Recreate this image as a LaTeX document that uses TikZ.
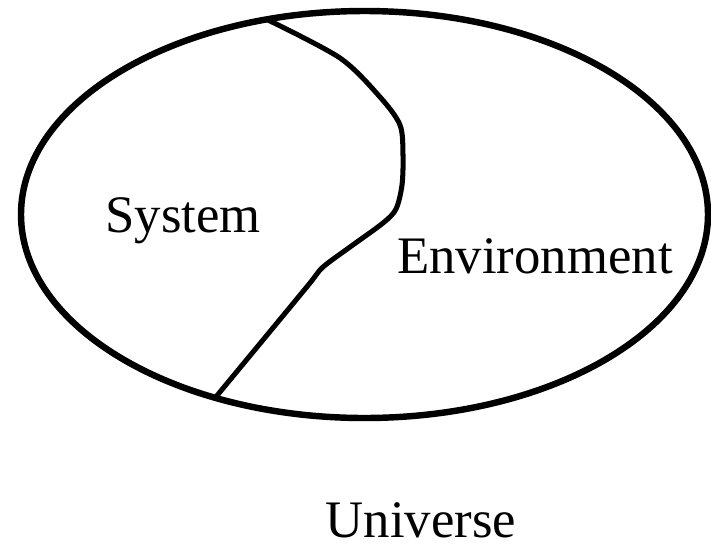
\documentclass[tikz,border=0pt]{standalone}
\usepackage{fontspec}
\setmainfont{Liberation Serif}

\begin{document}
\begin{tikzpicture}[
  x=0.03cm, y=-0.03cm,
  rim/.style={line width=5.5pt},
  cut/.style={line width=4.3pt, line join=round},
  word/.style={anchor=base, inner sep=0pt, font=\fontsize{45}{50}\selectfont}
]
  \useasboundingbox (0,0) rectangle (711,548);
  % universe boundary
  \coordinate (centre) at (364.5,214.5);
  \draw[rim] (centre) ellipse [x radius=343.5, y radius=203.5];
  % system / environment split
  \draw[cut] plot[smooth, tension=0.5] coordinates {
    (268,20) (340,58) (380,97) (400,125) (403,155) (402,185)
    (396,209) (383,223) (350,247) (323,267) (310,283) (277,323) (215,398)};
  \node[word] (system) at (183,232) {System};
  \node[word] (environment) at (535,273) {Environment};
  \node[word] (universe) at (421,537) {Universe};
\end{tikzpicture}
\end{document}
